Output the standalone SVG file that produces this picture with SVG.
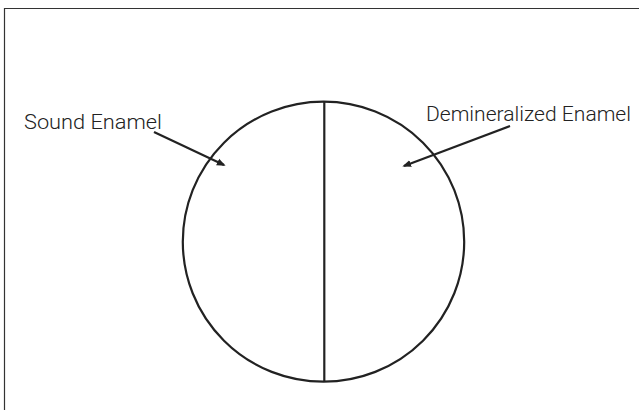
<svg xmlns="http://www.w3.org/2000/svg" width="639" height="410" viewBox="0 0 639 410">
<style>
.lbl{font-family:Roboto,"Liberation Sans",sans-serif;font-size:20.5px;fill:#222;font-weight:300}
.ln{stroke:#222;fill:none;stroke-width:2.2}
</style>
<defs>
<marker id="ah" viewBox="0 0 10 10" refX="8" refY="5" markerWidth="4" markerHeight="4" orient="auto" markerUnits="strokeWidth">
<path d="M0,1 L10,5 L0,9 z" fill="#222"/>
</marker>
</defs>
<rect width="639" height="410" fill="#fff"/>
<path d="M4.5,410 V8.5 H639" stroke="#333" stroke-width="1.2" fill="none"/>
<g id="tooth">
<ellipse cx="323.5" cy="241.7" rx="140.7" ry="140" class="ln"/>
<line x1="324.3" y1="102" x2="324.3" y2="382" class="ln"/>
</g>
<g id="label-sound">
<text x="24" y="129" class="lbl" textLength="138" lengthAdjust="spacingAndGlyphs">Sound Enamel</text>
</g>
<g id="label-demin">
<text x="426" y="121" class="lbl" textLength="205" lengthAdjust="spacingAndGlyphs">Demineralized Enamel</text>
</g>
<g id="connectors">
<line x1="154" y1="132" x2="224" y2="165" class="ln" stroke-width="2.6" marker-end="url(#ah)"/>
<line x1="510" y1="126" x2="404" y2="166" class="ln" stroke-width="2.6" marker-end="url(#ah)"/>
</g>
</svg>
